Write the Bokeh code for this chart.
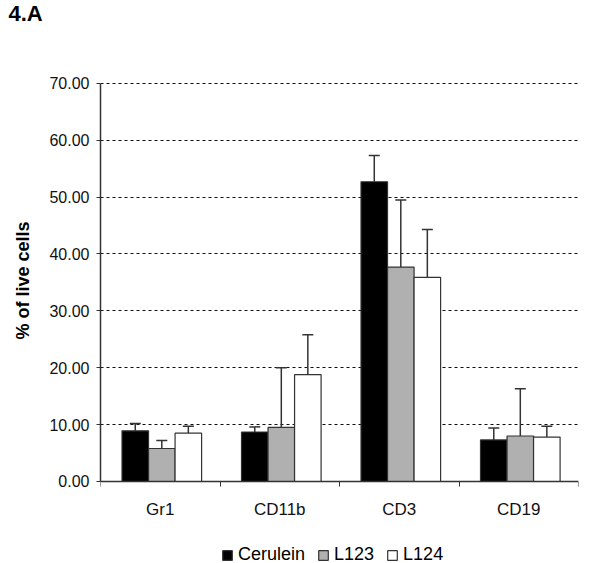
from bokeh.plotting import figure
from bokeh.models import (FixedTicker, NumeralTickFormatter, Whisker, TeeHead,
                          ColumnDataSource, Legend, LegendItem, Range1d)
from bokeh.embed import file_html
from bokeh.resources import INLINE

categories = ["Gr1", "CD11b", "CD3", "CD19"]
series = ["Cerulein", "L123", "L124"]
cerulein = [8.9, 8.7, 52.7, 7.3]
cerulein_err = [1.3, 0.9, 4.6, 2.1]
l123 = [5.8, 9.5, 37.7, 8.0]
l123_err = [1.4, 10.5, 11.8, 8.3]
l124 = [8.5, 18.8, 35.9, 7.8]
l124_err = [1.2, 7.0, 8.4, 1.9]
y_ticks = [0, 10, 20, 30, 40, 50, 60, 70]

colors = ["#000000", "#b0b0b0", "#ffffff"]
offsets = [-0.222, 0.0, 0.222]
bar_w = 0.222

FONT = "Liberation Sans"

# frame extends below zero to hold the category labels and the legend
p = figure(frame_width=478, frame_height=486, output_backend="svg",
           toolbar_location=None, x_range=Range1d(0, len(categories)),
           y_range=Range1d(-15.3, 70.15),
           min_border_left=100, min_border_right=14, min_border_top=77,
           min_border_bottom=0)
p.outline_line_color = None
p.background_fill_color = "white"

p.title.text = "4.A\n\u00a0\n\u00a0"
p.title.text_font = FONT
p.title.text_font_style = "bold"
p.title.text_font_size = "22px"
p.title.text_line_height = 1.1
p.title.text_color = "#000000"
p.title.align = "left"
p.title.vertical_align = "top"
p.title.offset = -92
p.title.standoff = 0

centers = [i + 0.5 for i in range(len(categories))]
items = []
for vals, errs, name, col, off in zip([cerulein, l123, l124],
                                      [cerulein_err, l123_err, l124_err],
                                      series, colors, offsets):
    xs = [c + 0.013 + off for c in centers]
    src = ColumnDataSource(dict(x=xs, top=vals,
                                upper=[v + e for v, e in zip(vals, errs)]))
    r = p.vbar(x="x", top="top", bottom=0, width=bar_w, source=src,
               fill_color=col, line_color="#333333", line_width=1.2)
    w = Whisker(source=src, base="x", lower="top", upper="upper",
                line_color="#333333", line_width=1.5,
                upper_head=TeeHead(size=11, line_color="#333333", line_width=1.5),
                lower_head=None)
    p.add_layout(w)
    items.append(LegendItem(label=name, renderers=[r]))

# axes
p.xaxis.fixed_location = 0
p.xaxis.ticker = FixedTicker(ticks=centers,
                             minor_ticks=list(range(len(categories) + 1)))
p.xaxis.major_label_overrides = {c: lab for c, lab in zip(centers, categories)}
p.xaxis.major_tick_line_color = None
p.xaxis.major_tick_out = 0
p.xaxis.minor_tick_out = 5
p.xaxis.minor_tick_in = 0
p.xaxis.minor_tick_line_color = "#333333"
p.xaxis.major_label_standoff = 14
p.xaxis.major_label_text_font = FONT
p.xaxis.major_label_text_font_size = "17px"
p.xaxis.major_label_text_color = "#111111"
p.xaxis.axis_line_color = "#333333"
p.xaxis.axis_line_width = 1.5

p.yaxis.bounds = (0, 70)
p.yaxis.ticker = FixedTicker(ticks=y_ticks, minor_ticks=[])
p.yaxis.formatter = NumeralTickFormatter(format="0.00")
p.yaxis.major_tick_out = 4
p.yaxis.major_tick_in = 0
p.yaxis.major_tick_line_color = "#333333"
p.yaxis.major_label_standoff = 7
p.yaxis.major_label_text_font = FONT
p.yaxis.major_label_text_font_size = "16px"
p.yaxis.major_label_text_color = "#111111"
p.yaxis.axis_line_color = "#333333"
p.yaxis.axis_line_width = 1.5
p.yaxis.axis_label = "\u00a0" * 18 + "% of live cells"
p.yaxis.axis_label_text_font = FONT
p.yaxis.axis_label_text_font_style = "bold"
p.yaxis.axis_label_text_font_size = "18px"
p.yaxis.axis_label_text_color = "#000000"
p.yaxis.axis_label_standoff = 13

p.xgrid.grid_line_color = None
p.ygrid.ticker = FixedTicker(ticks=y_ticks[1:])
p.ygrid.grid_line_color = "#111111"
p.ygrid.grid_line_dash = "3 3"
p.ygrid.grid_line_width = 1.2

legend = Legend(items=items, orientation="horizontal", location=(121, 3),
                glyph_width=12, glyph_height=12, label_standoff=5, spacing=12,
                label_text_font=FONT, label_text_font_size="18px",
                label_text_color="#000000", background_fill_alpha=0,
                border_line_color=None, padding=0, margin=0)
p.add_layout(legend, "center")

open("out.html", "w").write(file_html(p, INLINE))
